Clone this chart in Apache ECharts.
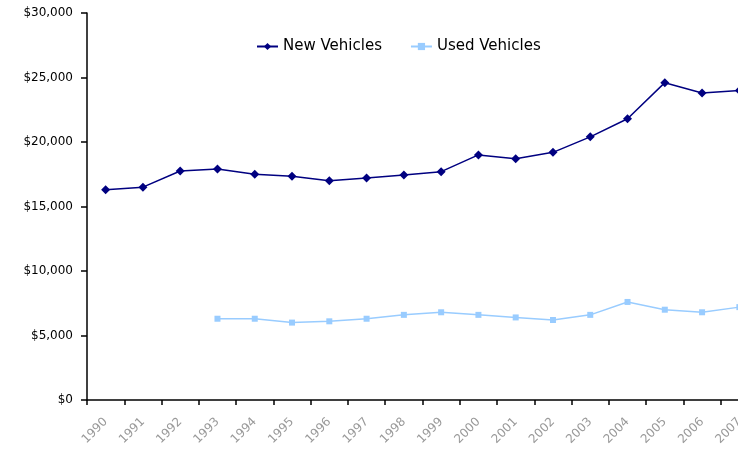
<!DOCTYPE html>
<html>
<head>
<meta charset="utf-8">
<script src="https://cdn.jsdelivr.net/npm/echarts@6/dist/echarts.min.js"></script>
<style>
  html, body { margin: 0; padding: 0; background: #fff; overflow: hidden; }
  /* plot runs past the right edge in the original, so the canvas is wider than the window */
  #chart { width: 758px; height: 458px; }
</style>
</head>
<body>
<div id="chart"></div>
<script>
const years = ['1990', '1991', '1992', '1993', '1994', '1995', '1996', '1997', '1998',
  '1999', '2000', '2001', '2002', '2003', '2004', '2005', '2006', '2007'];
const newVehicles = [16300, 16500, 17750, 17900, 17500, 17350, 17000, 17200, 17450,
  17700, 19000, 18700, 19200, 20400, 21800, 24600, 23800, 24000];
const usedVehicles = [null, null, null, 6300, 6300, 6000, 6100, 6300, 6600,
  6800, 6600, 6400, 6200, 6600, 7600, 7000, 6800, 7200];

const chart = echarts.init(document.getElementById('chart'));

const fmtMoney = (v) => '$' + v.toLocaleString('en-US');

chart.setOption({
  animation: false,
  backgroundColor: '#fff',
  textStyle: { fontFamily: 'DejaVu Sans, Arial, sans-serif' },
  legend: {
    top: 34,
    left: 251,
    itemWidth: 21,
    itemHeight: 9,
    itemGap: 28,
    textStyle: { fontSize: 15, color: '#000' },
    data: ['New Vehicles', 'Used Vehicles'],
  },
  grid: {
    left: 87,
    right: 0,
    top: 13,
    bottom: 58,
  },
  xAxis: {
    type: 'category',
    data: years,
    boundaryGap: true,
    axisLine: { lineStyle: { color: '#000', width: 1.5 } },
    axisTick: { show: true, length: 5, lineStyle: { color: '#000', width: 1.5 } },
    axisLabel: {
      rotate: 45,
      margin: 20,
      fontSize: 12,
      color: '#999999',
      interval: 0,
    },
  },
  yAxis: {
    type: 'value',
    min: 0,
    max: 30000,
    interval: 5000,
    splitLine: { show: false },
    axisLine: { show: true, lineStyle: { color: '#000', width: 1.5 } },
    axisTick: { show: true, length: 6, lineStyle: { color: '#000', width: 1.5 } },
    axisLabel: {
      fontSize: 12,
      color: '#000',
      margin: 14,
      formatter: fmtMoney,
    },
  },
  series: [
    {
      name: 'New Vehicles',
      type: 'line',
      data: newVehicles,
      color: '#000080',
      symbol: 'diamond',
      symbolSize: 9,
      lineStyle: { width: 1.5 },
    },
    {
      name: 'Used Vehicles',
      type: 'line',
      data: usedVehicles,
      color: '#99CCFF',
      symbol: 'rect',
      symbolSize: 6,
      lineStyle: { width: 1.5 },
    },
  ],
});
</script>
</body>
</html>
